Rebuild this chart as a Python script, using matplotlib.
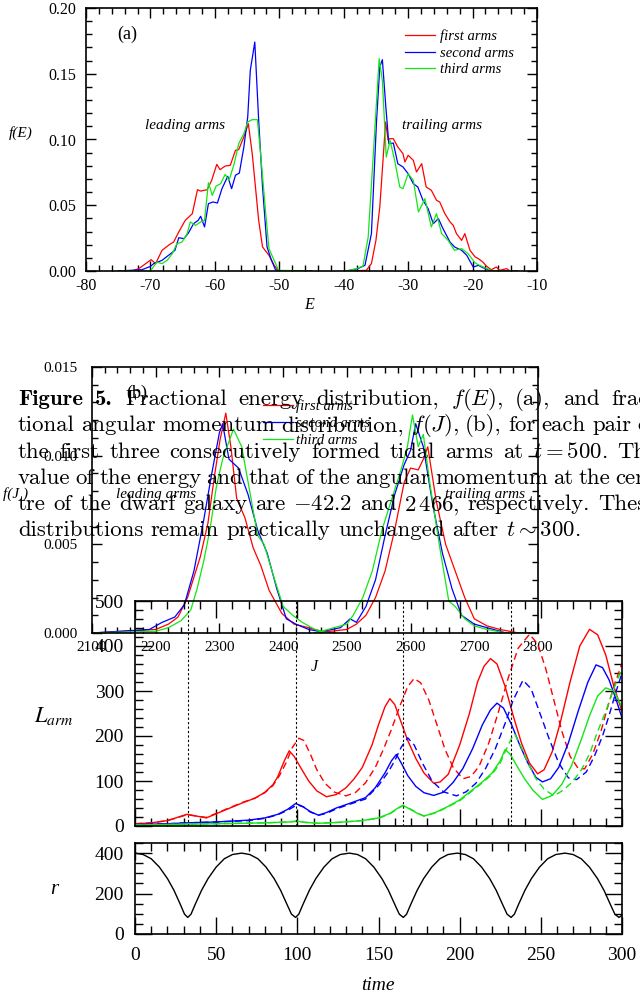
import matplotlib.pyplot as plt
from matplotlib.ticker import MultipleLocator

plt.rcParams['font.family'] = 'Liberation Serif'
plt.rcParams['axes.unicode_minus'] = False
plt.rcParams['mathtext.fontset'] = 'cm'

W, H = 640, 994
RED, BLUE, GREEN = '#ff0000', '#0000ff', '#14e614'

# ---------- (a) energy distribution f(E) ----------
red_lead_E = [-75, -72.9, -71.8, -69.9, -69.2, -68.2, -67.0, -66.4, -65.6, -64.6, -63.5, -62.7, -62.2, -61.2,
              -60.5, -59.7, -59.2, -58.4, -57.6, -56.8, -56.3, -55.5, -54.8, -54.2, -53.7, -53.2, -52.6,
              -51.6, -50.8, -50.1, -45]
red_lead_f = [0, 0.0, 0.0018, 0.0086, 0.0056, 0.0157, 0.0203, 0.022, 0.0297, 0.0385, 0.0436, 0.0618, 0.0608,
              0.0618, 0.0689, 0.0811, 0.0771, 0.0798, 0.0804, 0.0918, 0.0923, 0.1019, 0.112, 0.0892, 0.0639,
              0.0385, 0.0183, 0.0119, 0.0043, 0.0, 0]
blue_lead_E = [-75, -71.3, -70.0, -69.5, -68.2, -67.2, -66.2, -65.6, -64.8, -64.1, -63.3, -62.6, -62.2, -61.6,
               -61.0, -60.3, -59.6, -58.9, -58.0, -57.4, -56.8, -56.2, -55.5, -54.9, -54.5, -53.8, -53.2,
               -52.6, -51.9, -51.3, -50.6, -50.1, -45]
blue_lead_f = [0, 0.001, 0.0035, 0.0056, 0.0081, 0.0119, 0.0157, 0.0253, 0.0246, 0.0289, 0.036, 0.0385, 0.0416,
               0.0335, 0.0512, 0.0525, 0.0517, 0.0626, 0.072, 0.0626, 0.0728, 0.0745, 0.0943, 0.1171, 0.1526,
               0.1741, 0.1146, 0.0639, 0.0183, 0.0094, 0.001, 0.0, 0]
green_lead_E = [-75, -70.0, -69.0, -68.2, -67.4, -66.6, -65.9, -65.1, -64.3, -63.8, -63.0, -62.2, -61.6, -61.0,
                -60.4, -59.8, -59.1, -58.4, -57.8, -57.0, -56.3, -55.5, -54.9, -54.2, -53.4, -52.9, -52.1,
                -51.6, -50.8, -50.1, -45]
green_lead_f = [0, 0.0, 0.0068, 0.0056, 0.0081, 0.0132, 0.0208, 0.022, 0.0284, 0.0373, 0.0347, 0.0373, 0.0385,
                0.0672, 0.0575, 0.0646, 0.0664, 0.0735, 0.0689, 0.0816, 0.0968, 0.1044, 0.1133, 0.1151, 0.1151,
                0.0892, 0.0436, 0.017, 0.0081, 0.0005, 0]

red_trail_E = [-40, -39.6, -36.5, -35.7, -35.0, -34.4, -33.9, -33.5, -33.1, -32.9, -32.3, -31.6, -30.8, -30.5,
               -30.0, -29.2, -28.7, -27.9, -27.2, -26.4, -25.6, -25.1, -24.3, -23.5, -23.0, -22.5, -21.7,
               -21.2, -20.4, -19.6, -19.1, -18.4, -17.8, -17.1, -16.3, -15.8, -14.7, -14.2, -13]
red_trail_f = [0, 0, 0.0005, 0.0056, 0.0233, 0.0487, 0.0842, 0.1133, 0.0994, 0.1006, 0.1006, 0.0943, 0.0892,
               0.0829, 0.088, 0.0842, 0.0753, 0.0816, 0.0639, 0.0614, 0.0538, 0.0525, 0.0436, 0.0373, 0.0347,
               0.0284, 0.0233, 0.0284, 0.0157, 0.0107, 0.0094, 0.0068, 0.0035, 0.001, 0.003, 0.0005, 0.0018, 0, 0]
blue_trail_E = [-40, -39.6, -37.8, -36.7, -35.7, -34.9, -34.4, -34.0, -33.5, -33.0, -32.3, -31.6, -30.8, -30.0,
                -29.2, -28.5, -27.7, -26.9, -26.1, -25.3, -24.6, -23.5, -22.8, -21.7, -20.9, -19.9, -19.1,
                -18.4, -17.3, -16.3, -13]
blue_trail_f = [0, 0, 0.0018, 0.0043, 0.0284, 0.1146, 0.1552, 0.1607, 0.1272, 0.0968, 0.0973, 0.0816, 0.0791,
                0.074, 0.0664, 0.0639, 0.0538, 0.0474, 0.036, 0.0398, 0.0323, 0.022, 0.0183, 0.0157, 0.0119,
                0.003, 0.0043, 0.0025, 0.0005, 0, 0]
green_trail_E = [-40, -39.6, -38.0, -37.0, -36.2, -35.4, -34.5, -34.0, -33.4, -32.8, -32.1, -31.3, -30.8,
                 -30.0, -29.2, -28.4, -27.4, -26.4, -25.6, -24.8, -23.8, -22.8, -21.7, -20.7, -19.6, -18.9,
                 -17.8, -16.8, -13]
green_trail_f = [0, 0, 0.0018, 0.0038, 0.0259, 0.0892, 0.1615, 0.145, 0.0867, 0.0994, 0.0842, 0.0639, 0.0626,
                 0.074, 0.0689, 0.0449, 0.055, 0.0335, 0.0436, 0.0284, 0.0233, 0.0157, 0.017, 0.0132, 0.0061,
                 0.0043, 0.0018, 0, 0]

# ---------- (b) angular momentum distribution f(J) ----------
red_lead_J = [2100, 2200, 2220, 2235, 2250, 2270, 2282, 2292, 2301, 2310, 2318, 2327, 2340, 2353, 2365, 2378,
              2398, 2417, 2440, 2460, 2480]
red_lead_fJ = [0, 0.0002, 0.0005, 0.0009, 0.002, 0.0043, 0.0062, 0.0088, 0.0109, 0.0124, 0.0105, 0.0076,
               0.0065, 0.0048, 0.0038, 0.0024, 0.0011, 0.0005, 0.0003, 0.0001, 0]
blue_lead_J = [2100, 2190, 2210, 2230, 2245, 2260, 2275, 2288, 2300, 2305, 2315, 2330, 2345, 2360, 2375, 2390,
               2405, 2420, 2440, 2470]
blue_lead_fJ = [0, 0.0002, 0.0006, 0.0009, 0.0016, 0.0035, 0.0063, 0.009, 0.0113, 0.0118, 0.0098, 0.0093,
                0.0078, 0.0058, 0.0045, 0.0025, 0.0008, 0.0005, 0.0002, 0]
green_lead_J = [2100, 2200, 2220, 2240, 2255, 2265, 2275, 2285, 2295, 2305, 2315, 2322, 2335, 2350, 2360, 2370,
                2385, 2400, 2415, 2430, 2450, 2470]
green_lead_fJ = [0, 0.0001, 0.0003, 0.0007, 0.0013, 0.0025, 0.004, 0.0058, 0.0082, 0.0098, 0.0108, 0.0115,
                 0.0105, 0.0075, 0.0055, 0.005, 0.0032, 0.0015, 0.001, 0.0006, 0.0002, 0]
red_trail_J = [2450, 2500, 2515, 2530, 2545, 2560, 2575, 2590, 2600, 2612, 2620, 2627, 2640, 2655, 2670, 2685,
               2700, 2720, 2740, 2770, 2800]
red_trail_fJ = [0, 0.0002, 0.0005, 0.001, 0.002, 0.0035, 0.0058, 0.0085, 0.0093, 0.0092, 0.0098, 0.0105,
                0.0075, 0.005, 0.0035, 0.002, 0.0008, 0.0004, 0.0002, 0, 0]
blue_trail_J = [2450, 2490, 2505, 2515, 2530, 2545, 2560, 2575, 2590, 2600, 2608, 2620, 2635, 2650, 2665, 2680,
                2700, 2720, 2750, 2800]
blue_trail_fJ = [0, 0.0003, 0.0008, 0.0006, 0.0015, 0.003, 0.0055, 0.0078, 0.0095, 0.0103, 0.0118, 0.0105,
                 0.0072, 0.0045, 0.0025, 0.001, 0.0005, 0.0003, 0, 0]
green_trail_J = [2450, 2480, 2500, 2510, 2525, 2540, 2555, 2570, 2585, 2595, 2603, 2612, 2620, 2630, 2645, 2660,
                 2670, 2685, 2700, 2720, 2750, 2800]
green_trail_fJ = [0, 0.0003, 0.0005, 0.001, 0.002, 0.0035, 0.0058, 0.0075, 0.0092, 0.0105, 0.0123, 0.0105,
                  0.0112, 0.0085, 0.005, 0.0018, 0.0015, 0.0008, 0.0004, 0.0002, 0, 0]

# ---------- (c) arm length vs time (solid / dashed) ----------
red_t = [0, 10, 20, 32, 44, 56.5, 66.6, 74, 80, 85, 88, 92, 95, 98, 102, 107, 112, 118, 124, 130, 135, 140, 146,
         150, 154, 157, 160, 164, 168, 173, 178, 184, 188, 193, 200, 206, 211, 215, 219, 223, 228, 233, 238, 243,
         248, 252, 257, 262, 268, 274, 280, 285, 290, 295, 300]
red_L = [5, 7, 12, 26, 18, 37, 52, 62, 75, 92, 110, 145, 167, 155, 130, 100, 78, 65, 70, 85, 105, 130, 180, 225,
         265, 283, 270, 230, 190, 150, 118, 95, 98, 115, 180, 250, 320, 355, 372, 360, 310, 245, 185, 140, 116,
         125, 165, 230, 320, 400, 437, 425, 380, 310, 255]
red_t2 = [0, 10, 20, 32, 44, 56.5, 66.6, 74, 80, 85, 89, 93, 97, 101, 104, 108, 112, 117, 123, 130, 136, 142, 148,
          153, 158, 163, 168, 172, 176, 181, 186, 191, 196, 202, 207, 212, 218, 224, 230, 236, 243, 248, 253, 258,
          263, 268, 273, 277, 282, 287, 292, 296, 300]
red_L2 = [5, 7, 12, 25, 19, 38, 53, 62, 74, 90, 112, 140, 175, 195, 190, 160, 125, 95, 75, 67, 75, 96, 130, 170,
          215, 265, 310, 328, 318, 280, 225, 170, 130, 105, 110, 133, 185, 255, 330, 395, 426, 405, 350, 280, 210,
          155, 128, 127, 160, 210, 275, 320, 362]
blue_t = [0, 20, 32, 50, 70, 80, 88, 94, 99, 103, 108, 113, 118, 124, 132, 142, 148, 154, 158, 161, 164, 168, 173,
          178, 184, 190, 196, 202, 208, 214, 219, 223, 227, 232, 237, 242, 247, 251, 256, 261, 267, 273, 279, 284,
          288, 292, 296, 300]
blue_L = [3, 5, 7, 9, 13, 18, 26, 37, 50, 44, 32, 24, 30, 40, 50, 63, 85, 118, 145, 159, 140, 112, 88, 74, 68,
          75, 97, 128, 172, 225, 258, 273, 262, 225, 180, 140, 108, 98, 105, 130, 185, 255, 320, 358, 352, 325,
          285, 240]
blue_t2 = [0, 20, 32, 50, 70, 80, 88, 94, 100, 104, 108, 113, 118, 124, 132, 142, 150, 156, 160, 164, 168, 172,
           177, 183, 190, 198, 204, 210, 216, 222, 228, 233, 239, 244, 249, 255, 261, 267, 272, 278, 283, 288, 292,
           296, 300]
blue_L2 = [3, 5, 7, 9, 12, 17, 25, 35, 47, 42, 31, 24, 28, 38, 48, 60, 90, 120, 145, 175, 196, 180, 140, 100, 76,
           67, 76, 95, 128, 172, 228, 280, 324, 305, 255, 195, 140, 107, 103, 120, 155, 200, 245, 295, 340]
green_t = [0, 30, 50, 80, 95, 99, 105, 113, 125, 140, 150, 157, 162, 165, 169, 174, 178, 185, 192, 200, 207, 214,
           220, 225, 228, 231, 235, 240, 245, 251, 257, 263, 269, 275, 280, 285, 290, 295, 300]
green_L = [2, 4, 5, 7, 9, 11, 8, 6, 8, 12, 18, 28, 40, 46, 38, 28, 22, 30, 42, 58, 78, 98, 118, 145, 170, 160,
           135, 105, 80, 59, 68, 93, 135, 193, 245, 289, 307, 300, 265]
green_t2 = [0, 30, 50, 80, 95, 99, 105, 113, 125, 140, 150, 157, 162, 165, 169, 174, 178, 185, 192, 200, 207, 214,
            220, 225, 228, 232, 234, 238, 242, 247, 252, 258, 264, 270, 275, 280, 285, 290, 295, 300]
green_L2 = [2, 4, 5, 7, 9, 10, 8, 6, 8, 12, 17, 27, 39, 45, 39, 29, 22, 29, 41, 56, 76, 96, 115, 140, 165, 195,
            204, 175, 140, 105, 82, 67, 80, 100, 125, 160, 210, 255, 305, 350]
peri_t = [32.5, 98.9, 165.3, 231.7]

# ---------- (d) orbital radius ----------
r_t = [0, 5, 10, 15, 20, 24, 28, 30.5, 32.5, 34.5, 37, 41, 45, 50, 55, 60,
       65.7, 70.7, 75.7, 80.7, 85.7, 89.7, 93.7, 96.4, 98.9, 100.9, 103.4, 107.4, 111.4, 116.4, 121.4, 126.4,
       132.1, 137.1, 142.1, 147.1, 152.1, 156.1, 160.1, 162.8, 165.3, 167.3, 169.8, 173.8, 177.8, 182.8, 187.8,
       192.8,
       198.5, 203.5, 208.5, 213.5, 218.5, 222.5, 226.5, 229.2, 231.7, 233.7, 236.2, 240.2, 244.2, 249.2, 254.2,
       259.2,
       264.9, 269.9, 274.9, 279.9, 284.9, 288.9, 292.9, 295.6, 298.1, 300]
r_val = [400, 393, 372, 331, 274, 216, 145, 98, 82, 98, 145, 216, 274, 331, 372, 393,
         400, 393, 372, 331, 274, 216, 145, 98, 82, 98, 145, 216, 274, 331, 372, 393,
         400, 393, 372, 331, 274, 216, 145, 98, 82, 98, 145, 216, 274, 331, 372, 393,
         400, 393, 372, 331, 274, 216, 145, 98, 82, 98, 145, 216, 274, 331, 372, 393,
         400, 393, 372, 331, 274, 216, 145, 98, 82, 92]

legend_labels = ['first arms', 'second arms', 'third arms']

caption = [
    "Figure 5. Fractional energy distribution, $f(E)$, (a), and frac-",
    "tional angular momentum distribution, $f(J)$, (b), for each pair of",
    "the first three consecutively formed tidal arms at $t=500$. The",
    "value of the energy and that of the angular momentum at the cen-",
    "tre of the dwarf galaxy are $-42.2$ and $2\\,466$, respectively. These",
    "distributions remain practically unchanged after $t\\sim300$.",
]


def box(l, t, r, b):
    return [l / W, 1 - b / H, (r - l) / W, (b - t) / H]


def style(ax, fs, major, minor, lw=1.2):
    ax.set_facecolor('none')
    for s in ax.spines.values():
        s.set_linewidth(lw)
    ax.tick_params(which='both', direction='in', top=True, right=True, labelsize=fs, width=1)
    ax.tick_params(which='major', length=major)
    ax.tick_params(which='minor', length=minor)


def ftext(x, y, s, **kw):
    kw.setdefault('ha', 'center')
    kw.setdefault('va', 'center')
    return fig.text(x / W, 1 - y / H, s, **kw)


fig = plt.figure(figsize=(W / 100, H / 100), dpi=100)
lw = 0.9

# panel (a)
ax_a = fig.add_axes(box(86, 8, 537, 271))
ha = []
for E1, f1, E2, f2, c, lab in [(red_lead_E, red_lead_f, red_trail_E, red_trail_f, RED, legend_labels[0]),
                               (blue_lead_E, blue_lead_f, blue_trail_E, blue_trail_f, BLUE, legend_labels[1]),
                               (green_lead_E, green_lead_f, green_trail_E, green_trail_f, GREEN, legend_labels[2])]:
    h, = ax_a.plot(E1, f1, color=c, lw=lw, label=lab)
    ax_a.plot(E2, f2, color=c, lw=lw)
    ha.append(h)
ax_a.set_xlim(-80, -10)
ax_a.set_ylim(0, 0.20)
ax_a.xaxis.set_major_locator(MultipleLocator(10))
ax_a.xaxis.set_minor_locator(MultipleLocator(2))
ax_a.yaxis.set_major_locator(MultipleLocator(0.05))
ax_a.yaxis.set_minor_locator(MultipleLocator(0.01))
ax_a.yaxis.set_major_formatter(lambda v, p: f'{v:.2f}')
style(ax_a, 11.5, 7, 4)
ax_a.tick_params(axis='y', pad=7)
ax_a.tick_params(axis='x', pad=5)
ax_a.legend(handles=ha, loc='upper left', bbox_to_anchor=(405 / W, 1 - 29 / H), bbox_transform=fig.transFigure,
            frameon=False, borderpad=0, borderaxespad=0, handlelength=2.05, handletextpad=0.35,
            labelspacing=0.25, prop={'size': 10.5, 'style': 'italic'})

# panel (b)
ax_b = fig.add_axes(box(92, 367, 538, 633))
hb = []
for J1, f1, J2, f2, c, lab in [(red_lead_J, red_lead_fJ, red_trail_J, red_trail_fJ, RED, legend_labels[0]),
                               (blue_lead_J, blue_lead_fJ, blue_trail_J, blue_trail_fJ, BLUE, legend_labels[1]),
                               (green_lead_J, green_lead_fJ, green_trail_J, green_trail_fJ, GREEN,
                                legend_labels[2])]:
    h, = ax_b.plot(J1, f1, color=c, lw=lw, label=lab)
    ax_b.plot(J2, f2, color=c, lw=lw)
    hb.append(h)
ax_b.set_xlim(2100, 2800)
ax_b.set_ylim(0, 0.015)
ax_b.xaxis.set_major_locator(MultipleLocator(100))
ax_b.xaxis.set_minor_locator(MultipleLocator(20))
ax_b.yaxis.set_major_locator(MultipleLocator(0.005))
ax_b.yaxis.set_minor_locator(MultipleLocator(0.001))
ax_b.yaxis.set_major_formatter(lambda v, p: f'{v:.3f}')
style(ax_b, 11, 7, 4)
ax_b.tick_params(axis='y', pad=10)
ax_b.tick_params(axis='x', pad=6)
ax_b.legend(handles=hb, loc='upper left', bbox_to_anchor=(263 / W, 1 - 399 / H), bbox_transform=fig.transFigure,
            frameon=False, borderpad=0, borderaxespad=0, handlelength=2.05, handletextpad=0.2,
            labelspacing=0.28, prop={'size': 10.5, 'style': 'italic'})

# panel (c)
ax_c = fig.add_axes(box(135, 601, 622, 826))
for tt, LL, c, ls in [(red_t, red_L, RED, '-'), (red_t2, red_L2, RED, '--'),
                      (blue_t, blue_L, BLUE, '-'), (blue_t2, blue_L2, BLUE, '--'),
                      (green_t, green_L, GREEN, '-'), (green_t2, green_L2, GREEN, '--')]:
    ax_c.plot(tt, LL, color=c, lw=1.0, ls=ls, dashes=(5, 3) if ls == '--' else (None, None))
for t in peri_t:
    ax_c.axvline(t, color='k', lw=0.8, ls=(0, (2, 2)))
ax_c.set_xlim(0, 300)
ax_c.set_ylim(0, 500)
ax_c.xaxis.set_major_locator(MultipleLocator(50))
ax_c.xaxis.set_minor_locator(MultipleLocator(10))
ax_c.yaxis.set_major_locator(MultipleLocator(100))
ax_c.yaxis.set_minor_locator(MultipleLocator(20))
style(ax_c, 14, 12, 6)
ax_c.tick_params(axis='x', labelbottom=False)
ax_c.tick_params(axis='y', pad=8)

# panel (d)
ax_d = fig.add_axes(box(135, 843, 622, 934))
ax_d.plot(r_t, r_val, color='k', lw=1.0)
ax_d.set_xlim(0, 300)
ax_d.set_ylim(0, 450)
ax_d.xaxis.set_major_locator(MultipleLocator(50))
ax_d.xaxis.set_minor_locator(MultipleLocator(10))
ax_d.yaxis.set_major_locator(MultipleLocator(200))
ax_d.yaxis.set_minor_locator(MultipleLocator(50))
style(ax_d, 14, 12, 6)
ax_d.tick_params(axis='y', pad=8)
ax_d.tick_params(axis='x', pad=9)

# labels
ftext(127, 34, '(a)', fontsize=13)
ftext(185, 125, 'leading arms', fontsize=11, style='italic')
ftext(442, 125, 'trailing arms', fontsize=11, style='italic')
ftext(21, 133, 'f(E)', fontsize=11, style='italic')
ftext(309, 305, 'E', fontsize=11.5, style='italic')
ftext(137, 393, '(b)', fontsize=13)
ftext(156, 494, 'leading arms', fontsize=11, style='italic')
ftext(485, 494, 'trailing arms', fontsize=11, style='italic')
ftext(16, 494, 'f(J )', fontsize=11, style='italic')
ftext(314, 667, 'J', fontsize=11.5, style='italic')
ftext(54, 716, '$L_{arm}$', fontsize=16, math_fontfamily='stix')
ftext(54, 890, 'r', fontsize=15, style='italic')
ftext(378, 985, 'time', fontsize=14, style='italic')

# caption, justified like the typeset page
renderer = fig.canvas.get_renderer()
CAP_FS = 16.4
left, right = 18, 656
y0, dy = 405, 26.3
for i, line in enumerate(caption):
    y = 1 - (y0 + i * dy) / H
    words = line.split(' ')
    items = []
    for j, w in enumerate(words):
        fam = 'cmb10' if (i == 0 and j < 2) else 'cmr10'
        items.append(fig.text(0, y, w, family=fam, fontsize=CAP_FS, va='baseline', ha='left'))
    widths = [t.get_window_extent(renderer).width for t in items]
    if i < len(caption) - 1:
        gap = (right - left - sum(widths)) / (len(items) - 1)
    else:
        gap = CAP_FS * 100 / 72 * 0.333
    x = left
    for t, w in zip(items, widths):
        t.set_x(x / W)
        x += w + gap

fig.savefig('out.png', dpi=100)
